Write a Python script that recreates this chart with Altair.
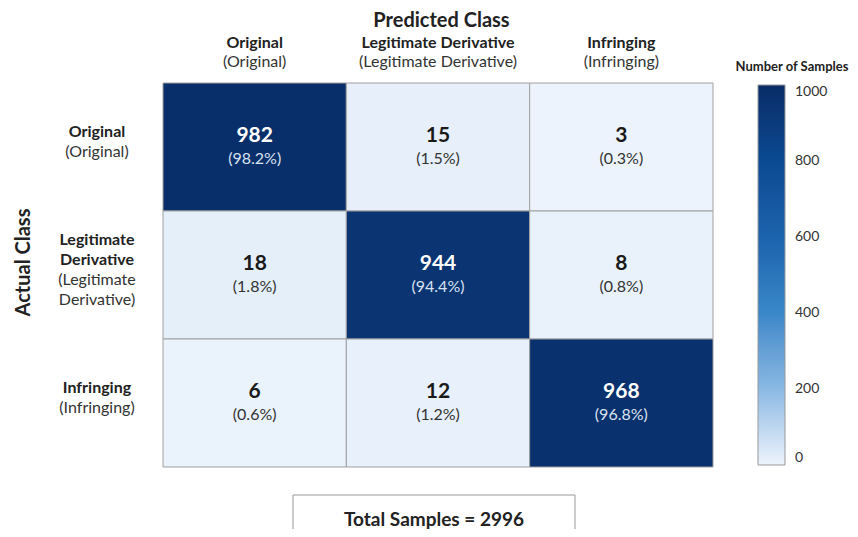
import altair as alt
import pandas as pd

# ---- data ----
classes = ["Original", "Legitimate Derivative", "Infringing"]
counts = [
    [982, 15, 3],
    [18, 944, 8],
    [6, 12, 968],
]
percents = [
    ["98.2%", "1.5%", "0.3%"],
    ["1.8%", "94.4%", "0.8%"],
    ["0.6%", "1.2%", "96.8%"],
]
x_bold = ["Original", "Legitimate Derivative", "Infringing"]
x_sub = ["(Original)", "(Legitimate Derivative)", "(Infringing)"]
y_bold = ["Original", "Legitimate\nDerivative", "Infringing"]
y_sub = ["(Original)", "(Legitimate\nDerivative)", "(Infringing)"]
legend_title = "Number of Samples"
legend_values = [0, 200, 400, 600, 800, 1000]
total_label = "Total Samples = 2996"

color_range = ["#edf4fc", "#8ab9e3", "#3a87c8", "#1c63ad", "#0a4a92", "#082c66"]

# ---- tables built from the lists ----
rows = []
for i, a in enumerate(classes):
    for j, p in enumerate(classes):
        rows.append({"actual": a, "predicted": p, "count": counts[i][j],
                     "pct": f"({percents[i][j]})"})
cells = pd.DataFrame(rows)
xlab = pd.DataFrame({"predicted": classes, "bold": x_bold, "sub": x_sub})

ylines = []
for i, a in enumerate(classes):
    parts = [(t, "bold") for t in y_bold[i].split("\n")] + \
            [(t, "normal") for t in y_sub[i].split("\n")]
    for k, (t, w) in enumerate(parts):
        ylines.append({"actual": a, "text": t, "w": w, "k": k, "n": len(parts)})
ylab = pd.DataFrame(ylines)
box = pd.DataFrame({"t": [total_label]})
ltitle = pd.DataFrame({"t": [legend_title]})

FONT = "Lato"
W, H = 550, 384
ROW_H = H / len(classes)

xs = alt.Scale(domain=classes, paddingInner=0, paddingOuter=0)
ys = alt.Scale(domain=classes, paddingInner=0, paddingOuter=0)

X = alt.X("predicted:N", scale=xs, sort=classes,
          axis=alt.Axis(orient="top", title="Predicted Class", labels=False,
                        ticks=False, domain=False, titlePadding=53, titleX=278,
                        titleFontSize=20, titleFontWeight="bold",
                        titleColor="#222"))
Y = alt.Y("actual:N", scale=ys, sort=classes,
          axis=alt.Axis(title="Actual Class", labels=False, ticks=False,
                        domain=False, titlePadding=130, titleY=179,
                        titleFontSize=20, titleFontWeight="bold",
                        titleColor="#222"))

base = alt.Chart(cells)

heat = base.mark_rect(stroke="#a0a0a0", strokeWidth=1).encode(
    x=X, y=Y,
    color=alt.Color(
        "count:Q",
        scale=alt.Scale(domain=[0, 1000], range=color_range),
        legend=alt.Legend(
            orient="none", legendX=595, legendY=2, direction="vertical",
            title=None,
            gradientLength=380, gradientThickness=27,
            gradientStrokeColor="#999", gradientStrokeWidth=1,
            values=legend_values, format="d", labelFontSize=14,
            labelColor="#333", labelOffset=10,
        ),
    ),
)

count_txt = base.mark_text(fontSize=21, fontWeight="bold", dy=-11,
                           baseline="middle").encode(
    x=alt.X("predicted:N", sort=classes),
    y=alt.Y("actual:N", sort=classes),
    text="count:Q",
    color=alt.condition(alt.datum["count"] > 500, alt.value("white"),
                        alt.value("#1a1a1a")),
)
pct_txt = base.mark_text(fontSize=16, dy=12, baseline="middle").encode(
    x=alt.X("predicted:N", sort=classes),
    y=alt.Y("actual:N", sort=classes),
    text="pct:N",
    color=alt.condition(alt.datum["count"] > 500, alt.value("#d8e2f0"),
                        alt.value("#333333")),
)

xb = alt.Chart(xlab).mark_text(fontSize=16, fontWeight="bold", color="#222",
                               baseline="middle").encode(
    x=alt.X("predicted:N", sort=classes), y=alt.value(-40), text="bold:N")
xsu = alt.Chart(xlab).mark_text(fontSize=16, color="#333",
                                baseline="middle").encode(
    x=alt.X("predicted:N", sort=classes), y=alt.value(-21), text="sub:N")

ybase = alt.Chart(ylab).transform_calculate(
    off=f"(datum.k - (datum.n - 1) / 2) * 20 - 5 + {ROW_H / 2}")
yb = ybase.transform_filter(alt.datum.w == "bold").mark_text(
    fontSize=16, fontWeight="bold", color="#222", baseline="middle").encode(
    y=alt.Y("actual:N", sort=classes), yOffset=alt.YOffset("off:Q", scale=None),
    x=alt.value(-66), text="text:N")
ysu = ybase.transform_filter(alt.datum.w == "normal").mark_text(
    fontSize=16, color="#333", baseline="middle").encode(
    y=alt.Y("actual:N", sort=classes), yOffset=alt.YOffset("off:Q", scale=None),
    x=alt.value(-66), text="text:N")

leg_title = alt.Chart(ltitle).mark_text(
    fontSize=13, fontWeight="bold", color="#222", baseline="middle").encode(
    x=alt.value(629), y=alt.value(-16), text="t:N")

box_top = alt.Chart(box).mark_rule(color="#999", strokeWidth=1).encode(
    x=alt.value(130), x2=alt.value(412), y=alt.value(412))
box_left = alt.Chart(box).mark_rule(color="#999", strokeWidth=1).encode(
    x=alt.value(130), y=alt.value(412), y2=alt.value(446))
box_right = alt.Chart(box).mark_rule(color="#999", strokeWidth=1).encode(
    x=alt.value(412), y=alt.value(412), y2=alt.value(446))
box_txt = alt.Chart(box).mark_text(fontSize=19, fontWeight="bold",
                                   color="#222", baseline="middle").encode(
    x=alt.value(271), y=alt.value(437), text="t:N")

chart = alt.layer(heat, count_txt, pct_txt, xb, xsu, yb, ysu, leg_title,
                  box_top, box_left, box_right, box_txt).properties(
    width=W, height=H,
    autosize=alt.AutoSizeParams(type="none"),
    padding={"left": 155, "top": 75, "right": 137, "bottom": 62},
).configure(font=FONT).configure_view(stroke=None)

chart.save("out.html", embed_options={"renderer": "svg", "actions": False})
